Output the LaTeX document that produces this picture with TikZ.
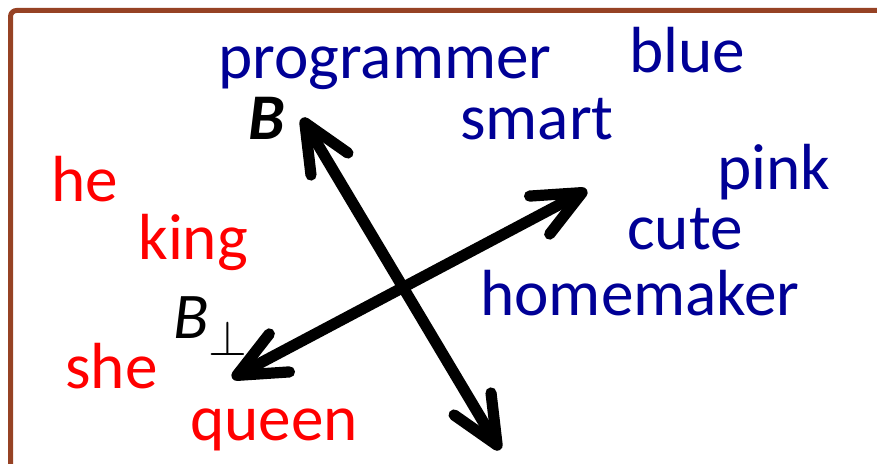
\documentclass[tikz,border=0pt]{standalone}
\usepackage{fontspec}
\setmainfont{Carlito}
\usetikzlibrary{arrows.meta}
\definecolor{framebrown}{RGB}{150,66,36}
\definecolor{wordblue}{RGB}{0,0,150}
\begin{document}
\begin{tikzpicture}[x=0.5pt, y=-0.5pt, line join=round, line cap=round,
  word/.style={anchor=base west, inner sep=0pt, font=\fontsize{32.6}{38}\selectfont},
  axis/.style={line width=5.6pt, {Straight Barb[round, length=24pt, width=21.5pt]}-{Straight Barb[round, length=24pt, width=21.5pt]}}]
\useasboundingbox (0,0) rectangle (877,464);
\draw[framebrown, line width=2.5pt, rounded corners=3pt] (10.5,480) |- (890,10.5);
\foreach \w/\x/\y in {programmer/218/79, blue/629/73, smart/460/140, pink/717/190, cute/627/250, homemaker/480/315}
  \node[word, wordblue] (\w) at (\x,\y) {\w};
\foreach \w/\x/\y in {he/51/202, king/138/260, she/65/388, queen/190/440}
  \node[word, red] (\w) at (\x,\y) {\w};
\node[word] (B) at (248,140) {\textit{\textbf{B}}};
\node[word] (Bperp) at (173,338) {\textit{B}$_{\perp}$};
\coordinate (Btop) at (302,118);
\coordinate (Bbot) at (500,450);
\coordinate (Pleft) at (232,378);
\coordinate (Pright) at (587,190);
\draw[axis] (Bbot) -- (Btop);
\draw[axis] (Pleft) -- (Pright);
\end{tikzpicture}
\end{document}
